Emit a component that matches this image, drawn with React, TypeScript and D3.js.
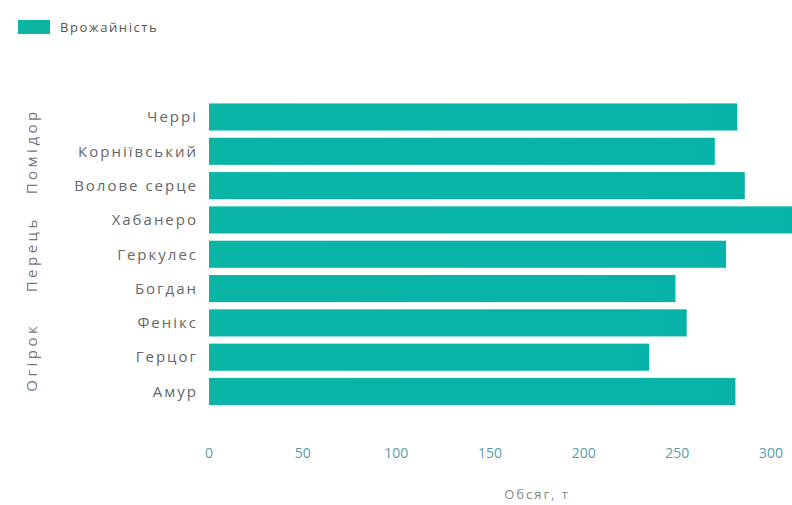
import React from "react";
import * as d3 from "d3";

const categories = ["Черрі", "Корніївський", "Волове серце", "Хабанеро", "Геркулес", "Богдан", "Фенікс", "Герцог", "Амур"];
const values = [282, 270, 286, 320, 276, 249, 255, 235, 281];
const groups = ["Помідор", "Перець", "Огірок"];
const groupMembers = [["Черрі", "Корніївський", "Волове серце"], ["Хабанеро", "Геркулес", "Богдан"], ["Фенікс", "Герцог", "Амур"]];
const ticks = [0, 50, 100, 150, 200, 250, 300];
const seriesName = "Врожайність";
const axisTitle = "Обсяг, т";

export default function App() {
  const W = 792, H = 505;
  const x = d3.scaleLinear().domain([0, 300]).range([209, 771]);
  const y = d3.scaleBand().domain(categories).range([100, 408.5]).paddingInner(0.21).paddingOuter(0.1);
  const font = "'Open Sans', 'Noto Sans', sans-serif";
  return (
    <svg width={W} height={H} style={{ position: "fixed", left: 0, top: 0, background: "#fff" }} fontFamily={font}>
      <defs>
        <linearGradient id="bg" x1="0" y1="0" x2="1" y2="0">
          <stop offset="0" stopColor="#0ab5a6" />
          <stop offset="1" stopColor="#07b3a8" />
        </linearGradient>
        <clipPath id="clip"><rect x={0} y={0} width={W} height={H} /></clipPath>
      </defs>
      <rect x={18} y={20} width={32} height={14} fill="#0cb59f" />
      <text x={60} y={32} fontSize={13} letterSpacing={1.6} fill="#555">{seriesName}</text>
      <g clipPath="url(#clip)">
        {categories.map((c, i) => (
          <rect key={c} x={x(0)} y={y(c)!} width={x(values[i]) - x(0)} height={y.bandwidth()} fill="url(#bg)" />
        ))}
      </g>
      {categories.map((c) => (
        <text key={c} x={198} y={y(c)! + y.bandwidth() / 2} dy="0.35em" textAnchor="end" fontSize={15} letterSpacing={2} fill="#666">{c}</text>
      ))}
      {groups.map((g, i) => {
        const m = groupMembers[i];
        const cy = (y(m[0])! + y(m[m.length - 1])! + y.bandwidth()) / 2;
        return (
          <text key={g} transform={`translate(32,${cy}) rotate(-90)`} textAnchor="middle" dy="0.35em" fontSize={15} letterSpacing={3.5} fill="#777">{g}</text>
        );
      })}
      {ticks.map((t) => (
        <text key={t} x={x(t)} y={458} textAnchor="middle" fontSize={14} fill="#5a9ca5">{t}</text>
      ))}
      <text x={537} y={499} textAnchor="middle" fontSize={13} letterSpacing={2} fill="#888">{axisTitle}</text>
    </svg>
  );
}
